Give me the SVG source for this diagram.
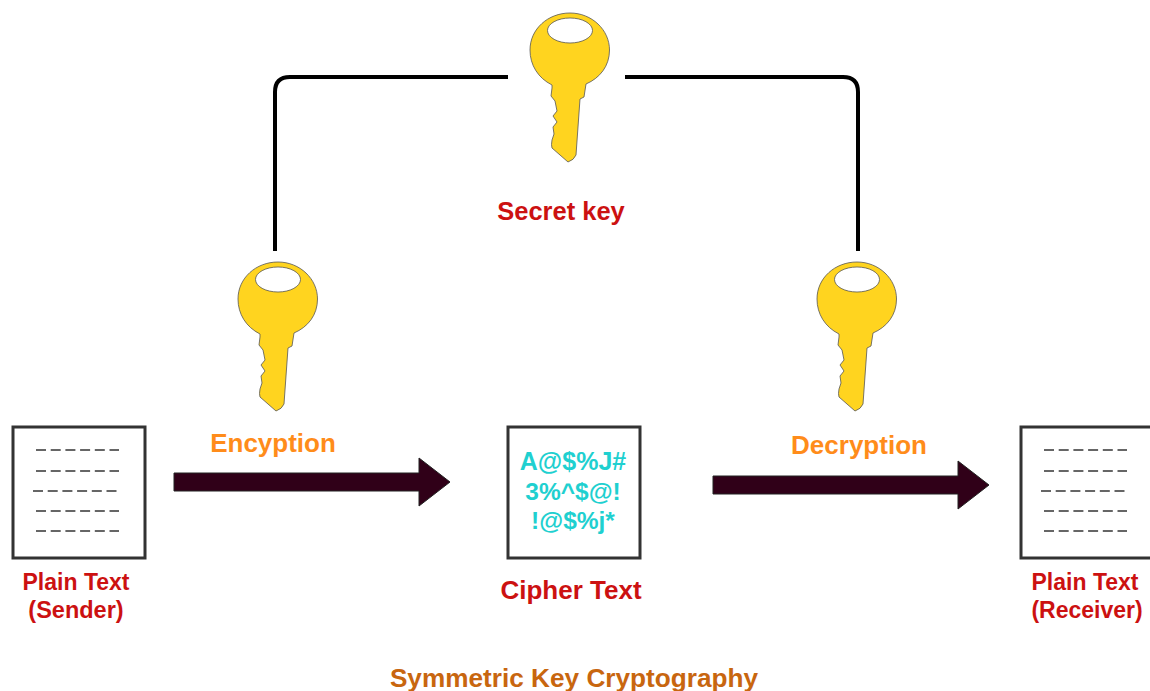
<svg xmlns="http://www.w3.org/2000/svg" xmlns:xlink="http://www.w3.org/1999/xlink" width="1150" height="691" viewBox="0 0 1150 691">
<style>
text{font-family:"Liberation Sans",Arial,sans-serif;font-weight:bold;text-anchor:middle}
.red{fill:#cc1111;font-size:23px}
.orange{fill:#ff8c1a;font-size:26px}
.cy{fill:#1fd0d0;font-size:24.500px}
.box{fill:#fff;stroke:#333;stroke-width:3}
.dash{stroke:#666;stroke-width:2;stroke-dasharray:10 4.700;fill:none}
.arrow{fill:#300018;stroke:#222;stroke-width:1}
.wire{fill:none;stroke:#000;stroke-width:4}
</style>
<defs>
<g id="key">
<path d="M552 85C538 78 530 65 530 50C530 29 548 13 570 13C592 13 609.500 30 609.500 50C609.500 66 600 78 586 84L584 97L580 99L576 155Q574 160 568 162L552 148Q551 145 552 140L554 134L553 127L557 122L553 116L557 111L555 101L551 96L552 88Z" fill="#ffd41f" stroke="#555" stroke-width="0.800"/>
<ellipse cx="570" cy="30.500" rx="22.500" ry="12.500" fill="#fff" stroke="#555" stroke-width="0.800"/>
</g>
<g id="lines">
<path class="dash" d="M36 450H119M36 471H119M33 491H117M36 511H119M36 531H119"/>
</g>
</defs>
<g id="connectors">
<path class="wire" d="M275 251V92Q275 77 290 77H508"/>
<path class="wire" d="M625 77H843Q858 77 858 92V251"/>
<path id="arrow-encrypt" class="arrow" d="M174 473H419V458L450 482L419 506V491H174Z"/>
<path id="arrow-decrypt" class="arrow" d="M713 476H958V461L989 485L958 509V494H713Z"/>
</g>
<g id="secret-key">
<use href="#key" xlink:href="#key"/>
<text class="red" x="561" y="220" style="font-size:25.500px">Secret key</text>
</g>
<g id="encryption-key"><use href="#key" xlink:href="#key" transform="translate(-292 249)"/></g>
<g id="decryption-key"><use href="#key" xlink:href="#key" transform="translate(287 249)"/></g>
<g id="encryption-label"><text class="orange" x="273" y="452">Encyption</text></g>
<g id="decryption-label"><text class="orange" x="859" y="454">Decryption</text></g>
<g id="plain-sender">
<rect class="box" x="13" y="427" width="132" height="131"/>
<use href="#lines" xlink:href="#lines"/>
<text class="red" x="76" y="590">Plain Text</text>
<text class="red" x="76" y="618" style="font-size:23.500px">(Sender)</text>
</g>
<g id="cipher-text">
<rect class="box" x="508" y="427" width="132" height="131"/>
<text class="cy" x="573" y="470" style="font-size:25px">A@$%J#</text>
<text class="cy" x="573" y="500">3%^$@!</text>
<text class="cy" x="573" y="529">!@$%j*</text>
<text class="red" x="571" y="599" style="font-size:26px">Cipher Text</text>
</g>
<g id="plain-receiver">
<rect class="box" x="1021" y="427" width="132" height="131"/>
<use href="#lines" xlink:href="#lines" transform="translate(1008 0)"/>
<text class="red" x="1085" y="590">Plain Text</text>
<text class="red" x="1087" y="618" style="font-size:23px">(Receiver)</text>
</g>
<g id="title"><text x="574" y="687" style="font-size:26.200px;fill:#c8660f">Symmetric Key Cryptography</text></g>
</svg>
